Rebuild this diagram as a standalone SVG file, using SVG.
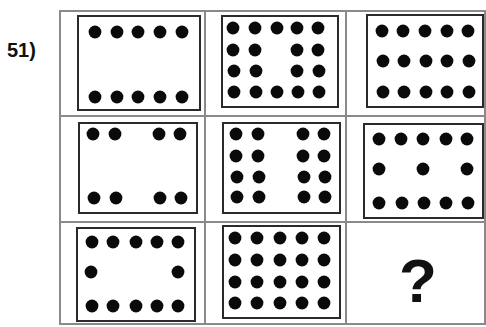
<svg xmlns="http://www.w3.org/2000/svg" width="486" height="327" viewBox="0 0 486 327">
<style>
.grid{fill:none;stroke:#8a8a8a;stroke-width:2}
.box{fill:none;stroke:#2a2a2a;stroke-width:2}
.d circle{fill:#0a0a0a;r:6.4px}
.t{font-family:"Liberation Sans",Arial,sans-serif;font-weight:bold;fill:#111}
</style>
<rect width="486" height="327" fill="#ffffff"/>
<g id="grid">
<rect class="grid" x="60" y="11" width="425" height="313"/>
<line class="grid" x1="205" y1="11" x2="205" y2="324"/>
<line class="grid" x1="346" y1="11" x2="346" y2="324"/>
<line class="grid" x1="60" y1="116" x2="485" y2="116"/>
<line class="grid" x1="60" y1="222" x2="485" y2="222"/>
</g>
<text class="t" x="7" y="57" font-size="20">51)</text>
<g id="c11">
<rect class="box" x="78" y="16" width="122" height="94"/>
<g class="d"><circle cx="95" cy="32" r="6.4"/><circle cx="117" cy="32" r="6.4"/><circle cx="138" cy="32" r="6.4"/><circle cx="160" cy="32" r="6.4"/><circle cx="182" cy="32" r="6.4"/>
<circle cx="95" cy="97" r="6.4"/><circle cx="117" cy="97" r="6.4"/><circle cx="138" cy="97" r="6.4"/><circle cx="160" cy="97" r="6.4"/><circle cx="182" cy="97" r="6.4"/></g>
</g>
<g id="c12">
<rect class="box" x="222" y="16" width="116" height="91"/>
<g class="d"><circle cx="233" cy="28" r="6.4"/><circle cx="255" cy="28" r="6.4"/><circle cx="277" cy="28" r="6.4"/><circle cx="297" cy="28" r="6.4"/><circle cx="318" cy="28" r="6.4"/>
<circle cx="233" cy="50" r="6.4"/><circle cx="255" cy="50" r="6.4"/><circle cx="297" cy="50" r="6.4"/><circle cx="318" cy="50" r="6.4"/>
<circle cx="234" cy="71" r="6.4"/><circle cx="256" cy="71" r="6.4"/><circle cx="297" cy="71" r="6.4"/><circle cx="319" cy="71" r="6.4"/>
<circle cx="234" cy="92" r="6.4"/><circle cx="256" cy="92" r="6.4"/><circle cx="277" cy="92" r="6.4"/><circle cx="298" cy="92" r="6.4"/><circle cx="319" cy="92" r="6.4"/></g>
</g>
<g id="c13">
<rect class="box" x="367" y="15" width="116" height="92"/>
<g class="d"><circle cx="382" cy="31" r="6.4"/><circle cx="403" cy="31" r="6.4"/><circle cx="425" cy="31" r="6.4"/><circle cx="447" cy="31" r="6.4"/><circle cx="468" cy="31" r="6.4"/>
<circle cx="383" cy="61" r="6.4"/><circle cx="404" cy="61" r="6.4"/><circle cx="426" cy="61" r="6.4"/><circle cx="447" cy="61" r="6.4"/><circle cx="469" cy="61" r="6.4"/>
<circle cx="383" cy="92" r="6.4"/><circle cx="404" cy="92" r="6.4"/><circle cx="426" cy="92" r="6.4"/><circle cx="447" cy="92" r="6.4"/><circle cx="469" cy="92" r="6.4"/></g>
</g>
<g id="c21">
<rect class="box" x="79" y="123" width="118" height="90"/>
<g class="d"><circle cx="93" cy="134" r="6.4"/><circle cx="115" cy="134" r="6.4"/><circle cx="159" cy="134" r="6.4"/><circle cx="180" cy="134" r="6.4"/>
<circle cx="94" cy="198" r="6.4"/><circle cx="116" cy="198" r="6.4"/><circle cx="160" cy="198" r="6.4"/><circle cx="181" cy="198" r="6.4"/></g>
</g>
<g id="c22">
<rect class="box" x="223" y="123" width="117" height="90"/>
<g class="d"><circle cx="236" cy="134" r="6.4"/><circle cx="258" cy="134" r="6.4"/><circle cx="303" cy="134" r="6.4"/><circle cx="324" cy="134" r="6.4"/>
<circle cx="236" cy="156" r="6.4"/><circle cx="258" cy="156" r="6.4"/><circle cx="303" cy="156" r="6.4"/><circle cx="324" cy="156" r="6.4"/>
<circle cx="237" cy="177" r="6.4"/><circle cx="259" cy="177" r="6.4"/><circle cx="304" cy="177" r="6.4"/><circle cx="325" cy="177" r="6.4"/>
<circle cx="237" cy="197" r="6.4"/><circle cx="259" cy="197" r="6.4"/><circle cx="304" cy="197" r="6.4"/><circle cx="325" cy="197" r="6.4"/></g>
</g>
<g id="c23">
<rect class="box" x="364" y="124" width="119" height="94"/>
<g class="d"><circle cx="379" cy="139" r="6.4"/><circle cx="401" cy="139" r="6.4"/><circle cx="423" cy="139" r="6.4"/><circle cx="446" cy="139" r="6.4"/><circle cx="467" cy="139" r="6.4"/>
<circle cx="379" cy="169" r="6.4"/><circle cx="423" cy="169" r="6.4"/><circle cx="467" cy="169" r="6.4"/>
<circle cx="379" cy="203" r="6.4"/><circle cx="402" cy="203" r="6.4"/><circle cx="424" cy="203" r="6.4"/><circle cx="446" cy="203" r="6.4"/><circle cx="468" cy="203" r="6.4"/></g>
</g>
<g id="c31">
<rect class="box" x="77" y="228" width="118" height="93"/>
<g class="d"><circle cx="92" cy="242" r="6.4"/><circle cx="113" cy="242" r="6.4"/><circle cx="136" cy="242" r="6.4"/><circle cx="157" cy="242" r="6.4"/><circle cx="178" cy="242" r="6.4"/>
<circle cx="91" cy="272" r="6.4"/><circle cx="178" cy="272" r="6.4"/>
<circle cx="92" cy="306" r="6.4"/><circle cx="113" cy="306" r="6.4"/><circle cx="136" cy="306" r="6.4"/><circle cx="157" cy="306" r="6.4"/><circle cx="178" cy="306" r="6.4"/></g>
</g>
<g id="c32">
<rect class="box" x="223" y="226" width="117" height="92"/>
<g class="d"><circle cx="235" cy="238" r="6.4"/><circle cx="257" cy="238" r="6.4"/><circle cx="280" cy="238" r="6.4"/><circle cx="302" cy="238" r="6.4"/><circle cx="324" cy="238" r="6.4"/>
<circle cx="235" cy="260" r="6.4"/><circle cx="257" cy="260" r="6.4"/><circle cx="280" cy="260" r="6.4"/><circle cx="302" cy="260" r="6.4"/><circle cx="324" cy="260" r="6.4"/>
<circle cx="235" cy="282" r="6.4"/><circle cx="257" cy="282" r="6.4"/><circle cx="280" cy="282" r="6.4"/><circle cx="302" cy="282" r="6.4"/><circle cx="324" cy="282" r="6.4"/>
<circle cx="235" cy="303" r="6.4"/><circle cx="257" cy="303" r="6.4"/><circle cx="280" cy="303" r="6.4"/><circle cx="302" cy="303" r="6.4"/><circle cx="324" cy="303" r="6.4"/></g>
</g>
<g id="c33">
<text class="t" x="418" y="302" font-size="62" text-anchor="middle">?</text>
</g>
</svg>
